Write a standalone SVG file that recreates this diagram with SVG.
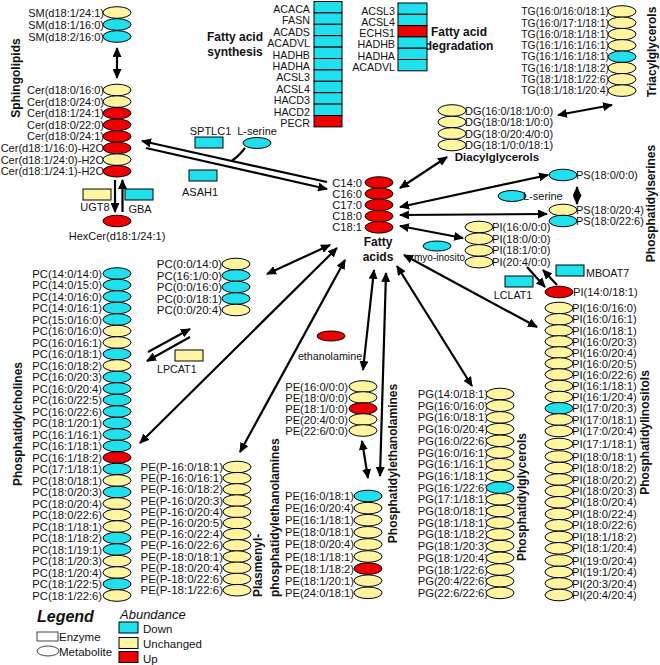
<svg xmlns="http://www.w3.org/2000/svg" width="660" height="665" viewBox="0 0 660 665">
<defs>
<marker id="ah" markerUnits="userSpaceOnUse" markerWidth="10" markerHeight="9" refX="9" refY="4.5" orient="auto-start-reverse"><path d="M0,0 L10,4.5 L0,9 z" fill="#000"/></marker>
</defs>
<style>
text{font-family:"Liberation Sans",Arial,sans-serif;fill:#111}
.e{stroke:#000;stroke-width:1}
.c{fill:#20E0EE}
.y{fill:#FFF4A0}
.r{fill:#EE0000}
.w{fill:#fff;stroke:#444}
.m{font-size:11.2px}
.z{font-size:10.7px}
.tg{font-size:10.4px}
.pp{font-size:11.5px}
.l{font-size:11px}
.end{text-anchor:end}
.mid{text-anchor:middle}
.ti{font-size:12px;font-weight:bold}
.a{stroke:#000;stroke-width:2.2;fill:none}
.a1{marker-end:url(#ah)}
.a2{marker-start:url(#ah);marker-end:url(#ah)}
</style>
<rect width="660" height="665" fill="#fff"/>

<!-- titles -->
<g id="titles">
<text class="ti mid" transform="translate(19.5,78) rotate(-90)">Sphingolipids</text>
<text class="ti mid" x="235" y="41">Fatty acid</text>
<text class="ti mid" x="235" y="56">synthesis</text>
<text class="ti mid" x="459" y="36">Fatty acid</text>
<text class="ti mid" x="459" y="50">degradation</text>
<text class="ti mid" transform="translate(656,52) rotate(-90)">Triacylglycerols</text>
<text class="mid" style="font-size:11.5px;font-weight:bold" x="497" y="161">Diacylglycerols</text>
<text class="ti mid" transform="translate(655,203.5) rotate(-90)">Phosphatidylserines</text>
<text class="ti mid" x="378" y="246">Fatty</text>
<text class="ti mid" x="378" y="261">acids</text>
<text class="ti mid" transform="translate(649,432.5) rotate(-90)">Phosphatidylinositols</text>
<text class="ti mid" transform="translate(22,424) rotate(-90)">Phosphatidylcholines</text>
<text class="ti mid" transform="translate(526,497) rotate(-90)">Phosphatidylglycerols</text>
<text class="ti mid" transform="translate(397,463.5) rotate(-90)">Phosphatidylethanolamines</text>
<text class="ti" transform="translate(262,597) rotate(-90)">Plasmenyl-</text>
<text class="ti" transform="translate(278.5,597) rotate(-90)">phosphatidylethanolamines</text>
</g>

<!-- connectors -->
<g id="connectors">
<line class="a a2" x1="117" y1="48" x2="117" y2="78"/>
<line class="a a1" x1="115" y1="180" x2="115" y2="212"/>
<line class="a a1" x1="122.5" y1="212" x2="122.5" y2="180"/>
<line class="a a1" x1="327" y1="182" x2="142" y2="141"/>
<line class="a a1" x1="146" y1="148" x2="327" y2="189"/>
<path class="a" d="M245,148 Q238,157 232,160.5"/>
<line class="a a2" x1="558" y1="115" x2="612" y2="105"/>
<line class="a a2" x1="400" y1="188" x2="447" y2="157"/>
<line class="a a2" x1="400" y1="207" x2="548" y2="175"/>
<line class="a a2" x1="400" y1="215" x2="547" y2="214"/>
<line class="a a2" x1="400" y1="226" x2="463" y2="238"/>
<line class="a a2" x1="577" y1="187" x2="577" y2="204"/>
<line class="a a1" x1="527" y1="267" x2="545" y2="287"/>
<line class="a a1" x1="557" y1="285" x2="543" y2="270"/>
<line class="a a2" x1="404" y1="255" x2="537" y2="327"/>
<line class="a a2" x1="397" y1="266" x2="472" y2="386"/>
<line class="a a2" x1="386" y1="273" x2="380" y2="476"/>
<line class="a a2" x1="374" y1="270" x2="363" y2="370"/>
<line class="a a2" x1="362" y1="441" x2="368" y2="478"/>
<line class="a a2" x1="345" y1="260" x2="240" y2="452"/>
<line class="a a2" x1="337" y1="248" x2="140" y2="443"/>
<line class="a a2" x1="330" y1="245" x2="267" y2="274"/>
<line class="a a1" x1="148" y1="352" x2="190" y2="329"/>
<line class="a a1" x1="190" y1="337" x2="147" y2="361"/>
</g>

<!-- Sphingolipids -->
<g id="SM1"><text class="l end" x="104" y="16.5">SM(d18:1/24:1)</text><ellipse class="e y" cx="117" cy="12.5" rx="14" ry="5.8"/></g>
<g id="SM2"><text class="l end" x="104" y="28.5">SM(d18:1/16:0)</text><ellipse class="e c" cx="117" cy="24.5" rx="14" ry="5.8"/></g>
<g id="SM3"><text class="l end" x="104" y="40.5">SM(d18:2/16:0)</text><ellipse class="e c" cx="117" cy="36.5" rx="14" ry="5.8"/></g>
<g id="Cer1"><text class="l end" x="104" y="94">Cer(d18:0/16:0)</text><ellipse class="e y" cx="117" cy="90" rx="14" ry="5.8"/></g>
<g id="Cer2"><text class="l end" x="104" y="105.6">Cer(d18:0/24:0)</text><ellipse class="e y" cx="117" cy="101.6" rx="14" ry="5.8"/></g>
<g id="Cer3"><text class="l end" x="104" y="117.2">Cer(d18:1/24:1)</text><ellipse class="e r" cx="117" cy="113.2" rx="14" ry="5.8"/></g>
<g id="Cer4"><text class="l end" x="104" y="128.8">Cer(d18:0/22:0)</text><ellipse class="e r" cx="117" cy="124.8" rx="14" ry="5.8"/></g>
<g id="Cer5"><text class="l end" x="104" y="140.4">Cer(d18:0/24:1)</text><ellipse class="e r" cx="117" cy="136.4" rx="14" ry="5.8"/></g>
<g id="Cer6"><text class="l end" x="104" y="152">Cer(d18:1/16:0)-H2O</text><ellipse class="e r" cx="117" cy="148" rx="14" ry="5.8"/></g>
<g id="Cer7"><text class="l end" x="104" y="163.6">Cer(d18:1/24:0)-H2O</text><ellipse class="e y" cx="117" cy="159.6" rx="14" ry="5.8"/></g>
<g id="Cer8"><text class="l end" x="104" y="175.2">Cer(d18:1/24:1)-H2O</text><ellipse class="e r" cx="117" cy="171.2" rx="14" ry="5.8"/></g>
<g id="UGT8"><rect class="e y" x="83" y="189" width="28" height="11"/><text class="l mid" x="95" y="211">UGT8</text></g>
<g id="GBA"><rect class="e c" x="125" y="189" width="28" height="11"/><text class="l mid" x="140" y="213">GBA</text></g>
<g id="HexCer"><ellipse class="e r" cx="117" cy="221" rx="14" ry="5.8"/><text class="l mid" x="117" y="240">HexCer(d18:1/24:1)</text></g>
<g id="SPTLC1"><rect class="e c" x="195" y="137" width="28" height="11"/><text class="l mid" x="210.5" y="135">SPTLC1</text></g>
<g id="Lserine1"><ellipse class="e c" cx="257" cy="143" rx="14" ry="5.5"/><text class="l mid" x="257" y="135">L-serine</text></g>
<g id="ASAH1"><rect class="e c" x="189" y="170" width="28" height="11"/><text class="l mid" x="200" y="196">ASAH1</text></g>

<!-- Fatty acid synthesis -->
<g id="syn_ACACA"><rect class="e c" x="314" y="1.5" width="28" height="11.4"/><text class="z end" x="310" y="13">ACACA</text></g>
<g id="syn_FASN"><rect class="e c" x="314" y="12.9" width="28" height="11.4"/><text class="z end" x="310" y="24.4">FASN</text></g>
<g id="syn_ACADS"><rect class="e c" x="314" y="24.3" width="28" height="11.4"/><text class="z end" x="310" y="35.8">ACADS</text></g>
<g id="syn_ACADVL"><rect class="e c" x="314" y="35.7" width="28" height="11.4"/><text class="z end" x="310" y="47.2">ACADVL</text></g>
<g id="syn_HADHB"><rect class="e c" x="314" y="47.1" width="28" height="11.4"/><text class="z end" x="310" y="58.6">HADHB</text></g>
<g id="syn_HADHA"><rect class="e c" x="314" y="58.5" width="28" height="11.4"/><text class="z end" x="310" y="70">HADHA</text></g>
<g id="syn_ACSL3"><rect class="e c" x="314" y="69.9" width="28" height="11.4"/><text class="z end" x="310" y="81.4">ACSL3</text></g>
<g id="syn_ACSL4"><rect class="e c" x="314" y="81.3" width="28" height="11.4"/><text class="z end" x="310" y="92.8">ACSL4</text></g>
<g id="syn_HACD3"><rect class="e c" x="314" y="92.7" width="28" height="11.4"/><text class="z end" x="310" y="104.2">HACD3</text></g>
<g id="syn_HACD2"><rect class="e c" x="314" y="104.1" width="28" height="11.4"/><text class="z end" x="310" y="115.6">HACD2</text></g>
<g id="syn_PECR"><rect class="e r" x="314" y="115.5" width="28" height="11.4"/><text class="z end" x="310" y="127">PECR</text></g>

<!-- Fatty acid degradation -->
<g id="deg_ACSL3"><rect class="e c" x="398" y="3" width="29" height="11.3"/><text class="z end" x="395" y="14.5">ACSL3</text></g>
<g id="deg_ACSL4"><rect class="e c" x="398" y="14.3" width="29" height="11.3"/><text class="z end" x="395" y="25.8">ACSL4</text></g>
<g id="deg_ECHS1"><rect class="e r" x="398" y="25.6" width="29" height="11.3"/><text class="z end" x="395" y="37.1">ECHS1</text></g>
<g id="deg_HADHB"><rect class="e c" x="398" y="36.9" width="29" height="11.3"/><text class="z end" x="395" y="48.4">HADHB</text></g>
<g id="deg_HADHA"><rect class="e c" x="398" y="48.2" width="29" height="11.3"/><text class="z end" x="395" y="59.7">HADHA</text></g>
<g id="deg_ACADVL"><rect class="e c" x="398" y="59.5" width="29" height="11.3"/><text class="z end" x="395" y="71">ACADVL</text></g>

<!-- TG -->
<g id="TG1"><text class="tg end" x="609" y="15.2">TG(16:0/16:0/18:1)</text><ellipse class="e y" cx="622" cy="11.5" rx="14" ry="5.8"/></g>
<g id="TG2"><text class="tg end" x="609" y="26.5">TG(16:0/17:1/18:1)</text><ellipse class="e y" cx="622" cy="22.8" rx="14" ry="5.8"/></g>
<g id="TG3"><text class="tg end" x="609" y="37.8">TG(16:0/18:1/18:1)</text><ellipse class="e y" cx="622" cy="34.1" rx="14" ry="5.8"/></g>
<g id="TG4"><text class="tg end" x="609" y="49.1">TG(16:1/16:1/16:1)</text><ellipse class="e y" cx="622" cy="45.4" rx="14" ry="5.8"/></g>
<g id="TG5"><text class="tg end" x="609" y="60.4">TG(16:1/16:1/18:1)</text><ellipse class="e c" cx="622" cy="56.7" rx="14" ry="5.8"/></g>
<g id="TG6"><text class="tg end" x="609" y="71.7">TG(16:1/18:1/18:2)</text><ellipse class="e y" cx="622" cy="68" rx="14" ry="5.8"/></g>
<g id="TG7"><text class="tg end" x="609" y="83">TG(18:1/18:1/22:6)</text><ellipse class="e y" cx="622" cy="79.3" rx="14" ry="5.8"/></g>
<g id="TG8"><text class="tg end" x="609" y="94.3">TG(18:1/18:1/20:4)</text><ellipse class="e y" cx="622" cy="90.6" rx="14" ry="5.8"/></g>

<!-- DG -->
<g id="DG1"><ellipse class="e y" cx="452" cy="110.5" rx="14" ry="5.8"/><text class="l" x="465" y="114.5">DG(16:0/18:1/0:0)</text></g>
<g id="DG2"><ellipse class="e y" cx="452" cy="122" rx="14" ry="5.8"/><text class="l" x="465" y="126">DG(18:0/18:1/0:0)</text></g>
<g id="DG3"><ellipse class="e y" cx="452" cy="133.5" rx="14" ry="5.8"/><text class="l" x="465" y="137.5">DG(18:0/20:4/0:0)</text></g>
<g id="DG4"><ellipse class="e y" cx="452" cy="145" rx="14" ry="5.8"/><text class="l" x="465" y="149">DG(18:1/0:0/18:1)</text></g>

<!-- PS -->
<g id="PS1"><ellipse class="e c" cx="563" cy="175" rx="14" ry="5.8"/><text class="l" x="576" y="179">PS(18:0/0:0)</text></g>
<g id="Lserine2"><ellipse class="e c" cx="512" cy="196" rx="14" ry="5.5"/><text class="l" x="523" y="200">L-serine</text></g>
<g id="PS2"><ellipse class="e y" cx="563" cy="210" rx="14" ry="5.8"/><text class="l" x="576" y="214">PS(18:0/20:4)</text></g>
<g id="PS3"><ellipse class="e c" cx="563" cy="221" rx="14" ry="5.8"/><text class="l" x="576" y="225">PS(18:0/22:6)</text></g>

<!-- Fatty acids -->
<g id="FA1"><text class="m end" x="362" y="186.5">C14:0</text><ellipse class="e r" cx="379" cy="182.5" rx="14" ry="5.8"/></g>
<g id="FA2"><text class="m end" x="362" y="197.7">C16:0</text><ellipse class="e r" cx="379" cy="193.7" rx="14" ry="5.8"/></g>
<g id="FA3"><text class="m end" x="362" y="208.9">C17:0</text><ellipse class="e r" cx="379" cy="204.9" rx="14" ry="5.8"/></g>
<g id="FA4"><text class="m end" x="362" y="220.1">C18:0</text><ellipse class="e r" cx="379" cy="216.1" rx="14" ry="5.8"/></g>
<g id="FA5"><text class="m end" x="362" y="231.3">C18:1</text><ellipse class="e r" cx="379" cy="227.3" rx="14" ry="5.8"/></g>

<!-- lyso PI -->
<g id="myoinositol"><text x="414" y="260.5" style="font-size:10px">myo-inosito</text><ellipse class="e c" cx="437" cy="246" rx="14" ry="5"/></g>
<g id="LPI1"><ellipse class="e y" cx="479" cy="227" rx="14" ry="5.8"/><text class="m" x="492" y="231">PI(16:0/0:0)</text></g>
<g id="LPI2"><ellipse class="e y" cx="479" cy="238.7" rx="14" ry="5.8"/><text class="m" x="492" y="242.7">PI(18:0/0:0)</text></g>
<g id="LPI3"><ellipse class="e y" cx="479" cy="250.4" rx="14" ry="5.8"/><text class="m" x="492" y="254.4">PI(18:1/0:0)</text></g>
<g id="LPI4"><ellipse class="e y" cx="479" cy="262.1" rx="14" ry="5.8"/><text class="m" x="492" y="266.1">PI(20:4/0:0)</text></g>
<g id="MBOAT7"><rect class="e c" x="556" y="265" width="28" height="11"/><text class="z" x="586" y="277">MBOAT7</text></g>
<g id="LCLAT1"><rect class="e c" x="505" y="276" width="28" height="11"/><text class="z mid" x="513" y="299">LCLAT1</text></g>

<!-- PI column -->
<g id="PI0"><ellipse class="e r" cx="559" cy="292" rx="14" ry="5.8"/><text class="m" x="573" y="296">PI(14:0/18:1)</text></g>
<g id="PI1"><ellipse class="e y" cx="559" cy="308" rx="14" ry="5.8"/><text class="m" x="572" y="312">PI(16:0/16:0)</text></g>
<g id="PI2"><ellipse class="e y" cx="559" cy="319.3" rx="14" ry="5.8"/><text class="m" x="572" y="323.3">PI(16:0/16:1)</text></g>
<g id="PI3"><ellipse class="e y" cx="559" cy="330.5" rx="14" ry="5.8"/><text class="m" x="572" y="334.5">PI(16:0/18:1)</text></g>
<g id="PI4"><ellipse class="e y" cx="559" cy="341.5" rx="14" ry="5.8"/><text class="m" x="572" y="345.5">PI(16:0/20:3)</text></g>
<g id="PI5"><ellipse class="e y" cx="559" cy="352.5" rx="14" ry="5.8"/><text class="m" x="572" y="356.5">PI(16:0/20:4)</text></g>
<g id="PI6"><ellipse class="e y" cx="559" cy="363.5" rx="14" ry="5.8"/><text class="m" x="572" y="367.5">PI(16:0/20:5)</text></g>
<g id="PI7"><ellipse class="e y" cx="559" cy="374.5" rx="14" ry="5.8"/><text class="m" x="572" y="378.5">PI(16:0/22:6)</text></g>
<g id="PI8"><ellipse class="e y" cx="559" cy="386" rx="14" ry="5.8"/><text class="m" x="572" y="390">PI(16:1/18:1)</text></g>
<g id="PI9"><ellipse class="e y" cx="559" cy="397" rx="14" ry="5.8"/><text class="m" x="572" y="401">PI(16:1/20:4)</text></g>
<g id="PI10"><ellipse class="e c" cx="559" cy="408.3" rx="14" ry="5.8"/><text class="m" x="572" y="412.3">PI(17:0/20:3)</text></g>
<g id="PI11"><ellipse class="e y" cx="559" cy="419.5" rx="14" ry="5.8"/><text class="m" x="572" y="423.5">PI(17:0/18:1)</text></g>
<g id="PI12"><ellipse class="e y" cx="559" cy="431" rx="14" ry="5.8"/><text class="m" x="572" y="435">PI(17:0/20:4)</text></g>
<g id="PI13"><ellipse class="e y" cx="559" cy="444" rx="14" ry="5.8"/><text class="m" x="572" y="448">PI(17:1/18:1)</text></g>
<g id="PI14"><ellipse class="e y" cx="559" cy="456.5" rx="14" ry="5.8"/><text class="m" x="572" y="460.5">PI(18:0/18:1)</text></g>
<g id="PI15"><ellipse class="e y" cx="559" cy="468" rx="14" ry="5.8"/><text class="m" x="572" y="472">PI(18:0/18:2)</text></g>
<g id="PI16"><ellipse class="e y" cx="559" cy="479.5" rx="14" ry="5.8"/><text class="m" x="572" y="483.5">PI(18:0/20:2)</text></g>
<g id="PI17"><ellipse class="e y" cx="559" cy="491" rx="14" ry="5.8"/><text class="m" x="572" y="495">PI(18:0/20:3)</text></g>
<g id="PI18"><ellipse class="e y" cx="559" cy="502.3" rx="14" ry="5.8"/><text class="m" x="572" y="506.3">PI(18:0/20:4)</text></g>
<g id="PI19"><ellipse class="e y" cx="559" cy="514" rx="14" ry="5.8"/><text class="m" x="572" y="518">PI(18:0/22:4)</text></g>
<g id="PI20"><ellipse class="e y" cx="559" cy="525.3" rx="14" ry="5.8"/><text class="m" x="572" y="529.3">PI(18:0/22:6)</text></g>
<g id="PI21"><ellipse class="e y" cx="559" cy="537" rx="14" ry="5.8"/><text class="m" x="572" y="541">PI(18:1/18:2)</text></g>
<g id="PI22"><ellipse class="e y" cx="559" cy="548.3" rx="14" ry="5.8"/><text class="m" x="572" y="552.3">PI(18:1/20:4)</text></g>
<g id="PI23"><ellipse class="e y" cx="559" cy="560.5" rx="14" ry="5.8"/><text class="m" x="572" y="564.5">PI(19:0/20:4)</text></g>
<g id="PI24"><ellipse class="e y" cx="559" cy="572" rx="14" ry="5.8"/><text class="m" x="572" y="576">PI(19:1/20:4)</text></g>
<g id="PI25"><ellipse class="e y" cx="559" cy="583.5" rx="14" ry="5.8"/><text class="m" x="572" y="587.5">PI(20:3/20:4)</text></g>
<g id="PI26"><ellipse class="e y" cx="559" cy="595" rx="14" ry="5.8"/><text class="m" x="572" y="599">PI(20:4/20:4)</text></g>

<!-- PG column -->
<g id="PG1"><text class="m end" x="488" y="398">PG(14:0/18:1)</text><ellipse class="e y" cx="500" cy="394" rx="14" ry="5.8"/></g>
<g id="PG2"><text class="m end" x="488" y="409.7">PG(16:0/16:0)</text><ellipse class="e y" cx="500" cy="405.7" rx="14" ry="5.8"/></g>
<g id="PG3"><text class="m end" x="488" y="421.4">PG(16:0/18:1)</text><ellipse class="e y" cx="500" cy="417.4" rx="14" ry="5.8"/></g>
<g id="PG4"><text class="m end" x="488" y="433.1">PG(16:0/20:4)</text><ellipse class="e y" cx="500" cy="429.1" rx="14" ry="5.8"/></g>
<g id="PG5"><text class="m end" x="488" y="444.8">PG(16:0/22:6)</text><ellipse class="e y" cx="500" cy="440.8" rx="14" ry="5.8"/></g>
<g id="PG6"><text class="m end" x="488" y="456.5">PG(16:0/16:1)</text><ellipse class="e y" cx="500" cy="452.5" rx="14" ry="5.8"/></g>
<g id="PG7"><text class="m end" x="488" y="468.2">PG(16:1/16:1)</text><ellipse class="e y" cx="500" cy="464.2" rx="14" ry="5.8"/></g>
<g id="PG8"><text class="m end" x="488" y="479.9">PG(16:1/18:1)</text><ellipse class="e y" cx="500" cy="475.9" rx="14" ry="5.8"/></g>
<g id="PG9"><text class="m end" x="488" y="491.6">PG(16:1/22:6)</text><ellipse class="e c" cx="500" cy="487.6" rx="14" ry="5.8"/></g>
<g id="PG10"><text class="m end" x="488" y="503.3">PG(17:1/18:1)</text><ellipse class="e y" cx="500" cy="499.3" rx="14" ry="5.8"/></g>
<g id="PG11"><text class="m end" x="488" y="515">PG(18:0/18:1)</text><ellipse class="e y" cx="500" cy="511" rx="14" ry="5.8"/></g>
<g id="PG12"><text class="m end" x="488" y="526.7">PG(18:1/18:1)</text><ellipse class="e y" cx="500" cy="522.7" rx="14" ry="5.8"/></g>
<g id="PG13"><text class="m end" x="488" y="538.4">PG(18:1/18:2)</text><ellipse class="e y" cx="500" cy="534.4" rx="14" ry="5.8"/></g>
<g id="PG14"><text class="m end" x="488" y="550.1">PG(18:1/20:3)</text><ellipse class="e y" cx="500" cy="546.1" rx="14" ry="5.8"/></g>
<g id="PG15"><text class="m end" x="488" y="561.8">PG(18:1/20:4)</text><ellipse class="e y" cx="500" cy="557.8" rx="14" ry="5.8"/></g>
<g id="PG16"><text class="m end" x="488" y="573.5">PG(18:1/22:6)</text><ellipse class="e y" cx="500" cy="569.5" rx="14" ry="5.8"/></g>
<g id="PG17"><text class="m end" x="488" y="585.2">PG(20:4/22:6)</text><ellipse class="e y" cx="500" cy="581.2" rx="14" ry="5.8"/></g>
<g id="PG18"><text class="m end" x="488" y="596.9">PG(22:6/22:6)</text><ellipse class="e y" cx="500" cy="592.9" rx="14" ry="5.8"/></g>

<!-- ethanolamine and lyso PE -->
<g id="ethanolamine"><ellipse class="e r" cx="331" cy="336" rx="14" ry="5"/><text class="z mid" x="330" y="360">ethanolamine</text></g>
<g id="LPE1"><text class="m end" x="348" y="390.5">PE(16:0/0:0)</text><ellipse class="e y" cx="363" cy="386.5" rx="14" ry="5.8"/></g>
<g id="LPE2"><text class="m end" x="348" y="401.5">PE(18:0/0:0)</text><ellipse class="e y" cx="363" cy="397.5" rx="14" ry="5.8"/></g>
<g id="LPE3"><text class="m end" x="348" y="412.5">PE(18:1/0:0)</text><ellipse class="e r" cx="363" cy="408.5" rx="14" ry="5.8"/></g>
<g id="LPE4"><text class="m end" x="348" y="423.5">PE(20:4/0:0)</text><ellipse class="e y" cx="363" cy="419.5" rx="14" ry="5.8"/></g>
<g id="LPE5"><text class="m end" x="348" y="434.5">PE(22:6/0:0)</text><ellipse class="e y" cx="363" cy="430.5" rx="14" ry="5.8"/></g>

<!-- PE column -->
<g id="PE1"><text class="m end" x="354" y="500">PE(16:0/18:1)</text><ellipse class="e c" cx="368" cy="496" rx="14" ry="5.8"/></g>
<g id="PE2"><text class="m end" x="354" y="512.1">PE(16:0/20:4)</text><ellipse class="e y" cx="368" cy="508.1" rx="14" ry="5.8"/></g>
<g id="PE3"><text class="m end" x="354" y="524.2">PE(16:1/18:1)</text><ellipse class="e y" cx="368" cy="520.2" rx="14" ry="5.8"/></g>
<g id="PE4"><text class="m end" x="354" y="536.3">PE(18:0/18:1)</text><ellipse class="e y" cx="368" cy="532.3" rx="14" ry="5.8"/></g>
<g id="PE5"><text class="m end" x="354" y="548.4">PE(18:0/20:4)</text><ellipse class="e y" cx="368" cy="544.4" rx="14" ry="5.8"/></g>
<g id="PE6"><text class="m end" x="354" y="560.5">PE(18:1/18:1)</text><ellipse class="e y" cx="368" cy="556.5" rx="14" ry="5.8"/></g>
<g id="PE7"><text class="m end" x="354" y="572.6">PE(18:1/18:2)</text><ellipse class="e r" cx="368" cy="568.6" rx="14" ry="5.8"/></g>
<g id="PE8"><text class="m end" x="354" y="584.7">PE(18:1/20:1)</text><ellipse class="e y" cx="368" cy="580.7" rx="14" ry="5.8"/></g>
<g id="PE9"><text class="m end" x="354" y="596.8">PE(24:0/18:1)</text><ellipse class="e y" cx="368" cy="592.8" rx="14" ry="5.8"/></g>

<!-- PE(P) column -->
<g id="PEP1"><text class="pp end" x="223" y="471">PE(P-16:0/18:1)</text><ellipse class="e y" cx="237" cy="467" rx="14" ry="5.8"/></g>
<g id="PEP2"><text class="pp end" x="223" y="482.2">PE(P-16:0/16:1)</text><ellipse class="e y" cx="237" cy="478.2" rx="14" ry="5.8"/></g>
<g id="PEP3"><text class="pp end" x="223" y="493.4">PE(P-16:0/18:2)</text><ellipse class="e y" cx="237" cy="489.4" rx="14" ry="5.8"/></g>
<g id="PEP4"><text class="pp end" x="223" y="504.6">PE(P-16:0/20:3)</text><ellipse class="e y" cx="237" cy="500.6" rx="14" ry="5.8"/></g>
<g id="PEP5"><text class="pp end" x="223" y="515.8">PE(P-16:0/20:4)</text><ellipse class="e y" cx="237" cy="511.8" rx="14" ry="5.8"/></g>
<g id="PEP6"><text class="pp end" x="223" y="527">PE(P-16:0/20:5)</text><ellipse class="e y" cx="237" cy="523" rx="14" ry="5.8"/></g>
<g id="PEP7"><text class="pp end" x="223" y="538.2">PE(P-16:0/22:4)</text><ellipse class="e y" cx="237" cy="534.2" rx="14" ry="5.8"/></g>
<g id="PEP8"><text class="pp end" x="223" y="549.4">PE(P-16:0/22:6)</text><ellipse class="e y" cx="237" cy="545.4" rx="14" ry="5.8"/></g>
<g id="PEP9"><text class="pp end" x="223" y="560.6">PE(P-18:0/18:1)</text><ellipse class="e y" cx="237" cy="556.6" rx="14" ry="5.8"/></g>
<g id="PEP10"><text class="pp end" x="223" y="571.8">PE(P-18:0/20:4)</text><ellipse class="e y" cx="237" cy="567.8" rx="14" ry="5.8"/></g>
<g id="PEP11"><text class="pp end" x="223" y="583">PE(P-18:0/22:6)</text><ellipse class="e y" cx="237" cy="579" rx="14" ry="5.8"/></g>
<g id="PEP12"><text class="pp end" x="223" y="594.2">PE(P-18:1/22:6)</text><ellipse class="e y" cx="237" cy="590.2" rx="14" ry="5.8"/></g>

<!-- lyso PC -->
<g id="LPC1"><text class="pp end" x="222" y="268">PC(0:0/14:0)</text><ellipse class="e y" cx="236" cy="264" rx="14" ry="5.8"/></g>
<g id="LPC2"><text class="pp end" x="222" y="279.5">PC(16:1/0:0)</text><ellipse class="e c" cx="236" cy="275.5" rx="14" ry="5.8"/></g>
<g id="LPC3"><text class="pp end" x="222" y="291">PC(0:0/16:0)</text><ellipse class="e c" cx="236" cy="287" rx="14" ry="5.8"/></g>
<g id="LPC4"><text class="pp end" x="222" y="302.5">PC(0:0/18:1)</text><ellipse class="e c" cx="236" cy="298.5" rx="14" ry="5.8"/></g>
<g id="LPC5"><text class="pp end" x="222" y="314">PC(0:0/20:4)</text><ellipse class="e y" cx="236" cy="310" rx="14" ry="5.8"/></g>
<g id="LPCAT1"><rect class="e y" x="175" y="350" width="28" height="11"/><text class="z" x="157" y="373">LPCAT1</text></g>

<!-- PC column -->
<g id="PC1"><text class="m end" x="102" y="277.5">PC(14:0/14:0)</text><ellipse class="e c" cx="117" cy="273.5" rx="14" ry="5.8"/></g>
<g id="PC2"><text class="m end" x="102" y="289">PC(14:0/15:0)</text><ellipse class="e c" cx="117" cy="285" rx="14" ry="5.8"/></g>
<g id="PC3"><text class="m end" x="102" y="300.5">PC(14:0/16:0)</text><ellipse class="e c" cx="117" cy="296.5" rx="14" ry="5.8"/></g>
<g id="PC4"><text class="m end" x="102" y="312">PC(14:0/16:1)</text><ellipse class="e c" cx="117" cy="308" rx="14" ry="5.8"/></g>
<g id="PC5"><text class="m end" x="102" y="323.5">PC(15:0/16:0)</text><ellipse class="e c" cx="117" cy="319.5" rx="14" ry="5.8"/></g>
<g id="PC6"><text class="m end" x="102" y="335">PC(16:0/16:0)</text><ellipse class="e y" cx="117" cy="331" rx="14" ry="5.8"/></g>
<g id="PC7"><text class="m end" x="102" y="346.5">PC(16:0/16:1)</text><ellipse class="e y" cx="117" cy="342.5" rx="14" ry="5.8"/></g>
<g id="PC8"><text class="m end" x="102" y="358">PC(16:0/18:1)</text><ellipse class="e c" cx="117" cy="354" rx="14" ry="5.8"/></g>
<g id="PC9"><text class="m end" x="102" y="369.5">PC(16:0/18:2)</text><ellipse class="e y" cx="117" cy="365.5" rx="14" ry="5.8"/></g>
<g id="PC10"><text class="m end" x="102" y="381">PC(16:0/20:3)</text><ellipse class="e c" cx="117" cy="377" rx="14" ry="5.8"/></g>
<g id="PC11"><text class="m end" x="102" y="392.5">PC(16:0/20:4)</text><ellipse class="e c" cx="117" cy="388.5" rx="14" ry="5.8"/></g>
<g id="PC12"><text class="m end" x="102" y="404">PC(16:0/22:5)</text><ellipse class="e c" cx="117" cy="400" rx="14" ry="5.8"/></g>
<g id="PC13"><text class="m end" x="102" y="415.5">PC(16:0/22:6)</text><ellipse class="e c" cx="117" cy="411.5" rx="14" ry="5.8"/></g>
<g id="PC14"><text class="m end" x="102" y="427">PC(18:1/20:1)</text><ellipse class="e c" cx="117" cy="423" rx="14" ry="5.8"/></g>
<g id="PC15"><text class="m end" x="102" y="438.5">PC(16:1/16:1)</text><ellipse class="e c" cx="117" cy="434.5" rx="14" ry="5.8"/></g>
<g id="PC16"><text class="m end" x="102" y="450">PC(16:1/18:1)</text><ellipse class="e c" cx="117" cy="446" rx="14" ry="5.8"/></g>
<g id="PC17"><text class="m end" x="102" y="461.5">PC(16:1/18:2)</text><ellipse class="e r" cx="117" cy="457.5" rx="14" ry="5.8"/></g>
<g id="PC18"><text class="m end" x="102" y="473">PC(17:1/18:1)</text><ellipse class="e c" cx="117" cy="469" rx="14" ry="5.8"/></g>
<g id="PC19"><text class="m end" x="102" y="484.5">PC(18:0/18:1)</text><ellipse class="e y" cx="117" cy="480.5" rx="14" ry="5.8"/></g>
<g id="PC20"><text class="m end" x="102" y="496">PC(18:0/20:3)</text><ellipse class="e c" cx="117" cy="492" rx="14" ry="5.8"/></g>
<g id="PC21"><text class="m end" x="102" y="507.5">PC(18:0/20:4)</text><ellipse class="e y" cx="117" cy="503.5" rx="14" ry="5.8"/></g>
<g id="PC22"><text class="m end" x="102" y="519">PC(18:0/22:6)</text><ellipse class="e y" cx="117" cy="515" rx="14" ry="5.8"/></g>
<g id="PC23"><text class="m end" x="102" y="530.5">PC(18:1/18:1)</text><ellipse class="e y" cx="117" cy="526.5" rx="14" ry="5.8"/></g>
<g id="PC24"><text class="m end" x="102" y="542">PC(18:1/18:2)</text><ellipse class="e c" cx="117" cy="538" rx="14" ry="5.8"/></g>
<g id="PC25"><text class="m end" x="102" y="553.5">PC(18:1/19:1)</text><ellipse class="e c" cx="117" cy="549.5" rx="14" ry="5.8"/></g>
<g id="PC26"><text class="m end" x="102" y="565">PC(18:1/20:3)</text><ellipse class="e y" cx="117" cy="561" rx="14" ry="5.8"/></g>
<g id="PC27"><text class="m end" x="102" y="576.5">PC(18:1/20:4)</text><ellipse class="e y" cx="117" cy="572.5" rx="14" ry="5.8"/></g>
<g id="PC28"><text class="m end" x="102" y="588">PC(18:1/22:5)</text><ellipse class="e c" cx="117" cy="584" rx="14" ry="5.8"/></g>
<g id="PC29"><text class="m end" x="102" y="599.5">PC(18:1/22:6)</text><ellipse class="e y" cx="117" cy="595.5" rx="14" ry="5.8"/></g>

<!-- Legend -->
<g id="legend">
<text x="37" y="622" style="font-size:16px;font-weight:bold;font-style:italic">Legend</text>
<rect class="w" x="37" y="632" width="21" height="9"/>
<text x="59" y="640.5" style="font-size:11.5px">Enzyme</text>
<ellipse class="w" cx="48" cy="651" rx="11" ry="5"/>
<text x="59" y="655.5" style="font-size:11.5px">Metabolite</text>
<text x="120" y="619" style="font-size:13px;font-style:italic">Abundance</text>
<rect class="e c" x="119" y="622" width="19" height="11"/>
<text x="143" y="633" style="font-size:11.5px">Down</text>
<rect class="e y" x="119" y="637.5" width="19" height="11"/>
<text x="143" y="648" style="font-size:11.5px">Unchanged</text>
<rect class="e r" x="119" y="651.5" width="19" height="11"/>
<text x="143" y="662.5" style="font-size:11.5px">Up</text>
</g>
</svg>
